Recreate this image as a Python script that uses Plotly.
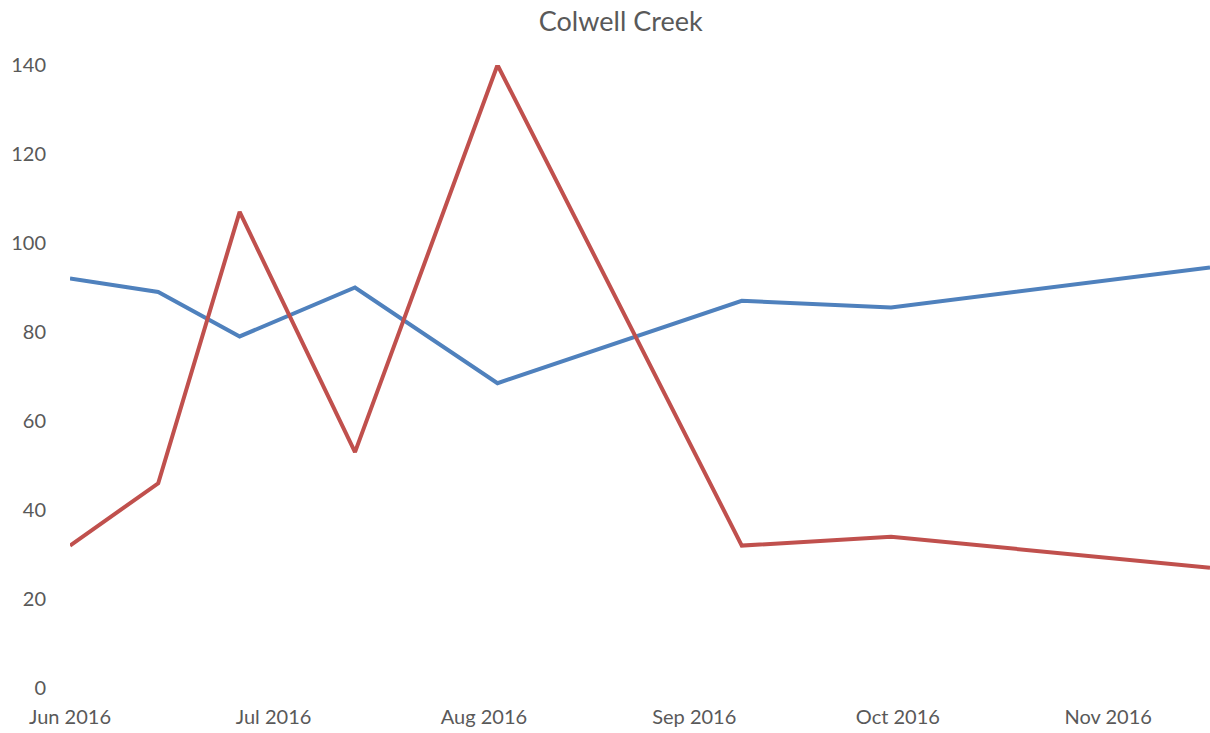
import plotly.graph_objects as go

# Sample dates for both series
dates = [
    "2016-06-01", "2016-06-14", "2016-06-26", "2016-07-13",
    "2016-08-03", "2016-09-08", "2016-09-30", "2016-11-16",
]
blue_values = [92, 89, 79, 90, 68.5, 87, 85.5, 94.5]
red_values = [32, 46, 107, 53, 140, 32, 34, 27]

y_ticks = [0, 20, 40, 60, 80, 100, 120, 140]

FONT = "Lato, 'Open Sans', sans-serif"
GREY = "#595959"

fig = go.Figure()
fig.add_trace(go.Scatter(x=dates, y=blue_values, mode="lines",
                         line=dict(color="#4F81BD", width=4)))
fig.add_trace(go.Scatter(x=dates, y=red_values, mode="lines",
                         line=dict(color="#C0504D", width=4)))

fig.update_layout(
    width=1210, height=733,
    margin=dict(l=70, r=0, t=65, b=45),
    paper_bgcolor="white", plot_bgcolor="white",
    showlegend=False,
    title=dict(text="Colwell Creek", x=0.513, xanchor="center", y=0.97, yanchor="middle",
               font=dict(family=FONT, size=27, color=GREY)),
    font=dict(family=FONT, size=20, color=GREY),
)
fig.update_xaxes(
    type="date", range=["2016-06-01", "2016-11-16"],
    tick0="2016-06-01", dtick="M1", tickformat="%b %Y",
    showgrid=False, zeroline=False, showline=False, ticks="",
    ticklabelstandoff=15,
)
fig.update_yaxes(
    range=[0, 140], tickvals=y_ticks,
    showgrid=False, zeroline=False, showline=False, ticks="",
    ticklabelstandoff=23,
)

fig.write_html("out.html")
